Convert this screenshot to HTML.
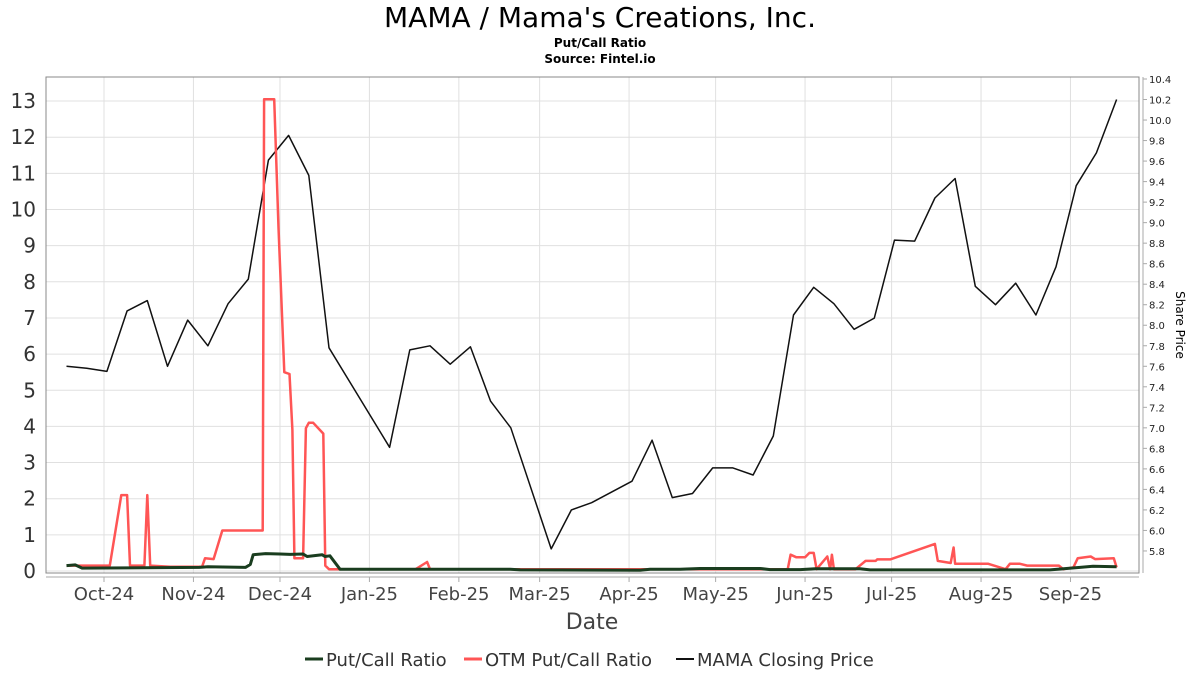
<!DOCTYPE html>
<html><head><meta charset="utf-8"><style>
body{margin:0;background:#fff;font-family:"DejaVu Sans","Liberation Sans",sans-serif}
svg text{font-family:"DejaVu Sans","Liberation Sans",sans-serif}
</style></head><body>
<svg id="chart" width="1200" height="675" viewBox="0 0 1200 675">
<text x="600" y="27" font-size="28" text-anchor="middle">MAMA / Mama's Creations, Inc.</text>
<text x="600" y="47" font-size="12" font-weight="bold" text-anchor="middle">Put/Call Ratio</text>
<text x="600" y="63" font-size="12" font-weight="bold" text-anchor="middle">Source: Fintel.io</text>
<g id="grid"></g>
<rect x="46" y="77" width="1093" height="496" fill="none" stroke="#888"/>
<line x1="46" y1="577" x2="1139" y2="577" stroke="#aaa"/>
<line x1="1143" y1="77" x2="1143" y2="573" stroke="#aaa"/>
<g id="axes"></g>
<g id="series"></g>
<text x="592" y="629" font-size="22" fill="#444" text-anchor="middle">Date</text>
<text x="1176" y="325" font-size="12" text-anchor="middle" transform="rotate(90 1176 325)">Share Price</text>
<g>
<line x1="305" y1="659" x2="323" y2="659" stroke="#1a3d1f" stroke-width="3"/>
<text x="326" y="666" font-size="18" fill="#333">Put/Call Ratio</text>
<line x1="464" y1="659" x2="482" y2="659" stroke="#ff5555" stroke-width="3"/>
<text x="485" y="666" font-size="18" fill="#333">OTM Put/Call Ratio</text>
<line x1="676" y1="659" x2="694" y2="659" stroke="#111" stroke-width="2"/>
<text x="697" y="666" font-size="18" fill="#333">MAMA Closing Price</text>
</g>
</svg>
<script>
// day offsets from 2024-10-01
const priceDays=[-13,-6,1,8,15,22,29,36,43,50,57,64,71,78,99,106,113,120,127,134,141,155,162,169,183,190,197,204,211,218,225,232,239,246,253,260,267,274,281,288,295,302,309,316,323,330,337,344,351];
const priceValues=[7.60,7.58,7.55,8.14,8.24,7.60,8.05,7.80,8.21,8.45,9.61,9.85,9.46,7.78,6.81,7.76,7.80,7.62,7.79,7.26,7.00,5.82,6.20,6.27,6.48,6.88,6.32,6.36,6.61,6.61,6.54,6.92,8.10,8.37,8.21,7.96,8.07,8.83,8.82,9.24,9.43,8.38,8.20,8.41,8.10,8.57,9.36,9.68,10.20];
const otmDays=[-13,2,6,8,9,14,15,16,23,34,35,38,41,55,55.5,59,60.5,62.5,64.3,65.3,66,69,70,71,72.5,76,76.7,78,88,108,112,113,237,238,240,243,244.5,246,247,250.7,251.7,252.3,253,260.5,264,267.5,268,272.5,288,289,293.5,294.5,295,306.5,312.5,314,317.5,320,331,332.5,336,337.5,342,343.5,350,351];
const otmValues=[0.15,0.15,2.1,2.1,0.15,0.15,2.1,0.15,0.12,0.12,0.35,0.33,1.12,1.12,13.05,13.05,9.5,5.5,5.45,3.9,0.35,0.35,3.95,4.1,4.1,3.8,0.15,0.05,0.05,0.05,0.25,0.05,0.05,0.45,0.38,0.38,0.5,0.5,0.05,0.4,0.05,0.45,0.05,0.05,0.28,0.28,0.32,0.32,0.75,0.28,0.22,0.65,0.2,0.2,0.05,0.2,0.2,0.15,0.15,0.05,0.1,0.35,0.4,0.33,0.35,0.1];
const pcDays=[-13,-10,-7.6,33,36,49,50.7,51.7,56,61,64.5,69,70.4,75.6,76.6,78.3,81.8,140.8,144.3,185.9,189.3,199.7,206.6,227.5,230.9,241.3,246.5,262.1,265.5,327.9,338.3,342.8,351];
const pcValues=[0.15,0.17,0.08,0.1,0.12,0.1,0.18,0.45,0.48,0.47,0.46,0.47,0.4,0.45,0.4,0.42,0.05,0.05,0.03,0.02,0.05,0.05,0.07,0.07,0.04,0.04,0.06,0.06,0.03,0.03,0.1,0.13,0.12];
const leftTicks=[0,1,2,3,4,5,6,7,8,9,10,11,12,13];
const rightTicks=[5.8,6.0,6.2,6.4,6.6,6.8,7.0,7.2,7.4,7.6,7.8,8.0,8.2,8.4,8.6,8.8,9.0,9.2,9.4,9.6,9.8,10.0,10.2,10.4];
const monthLabels=["Oct-24","Nov-24","Dec-24","Jan-25","Feb-25","Mar-25","Apr-25","May-25","Jun-25","Jul-25","Aug-25","Sep-25"];
const monthDays=[0,31,61,92,123,151,182,212,243,273,304,335];

const NS="http://www.w3.org/2000/svg";
const xS=d=>104+d*2.885;
const yL=v=>571-v*36.15;
const yR=p=>79+(10.4-p)/0.2*20.52;
function mk(tag,attrs,parent,txt){const e=document.createElementNS(NS,tag);for(const k in attrs)e.setAttribute(k,attrs[k]);if(txt!==undefined)e.textContent=txt;parent.appendChild(e);return e;}
const grid=document.getElementById('grid'),axes=document.getElementById('axes'),ser=document.getElementById('series');
leftTicks.forEach(t=>{
  const y=yL(t);
  const g=mk('line',{x1:46,x2:1139,y1:y,y2:y,stroke:'#e0e0e0'},grid);
  
  
  const l=mk('text',{x:36,y:y+7,'font-size':20,fill:'#333','text-anchor':'end'},axes,String(t));
  
  
});
rightTicks.forEach(t=>{
  const y=yR(t);
  mk('line',{x1:1143,x2:1147,y1:y,y2:y,stroke:'#aaa'},axes);
  const l=mk('text',{x:1149,y:y+4,'font-size':10,fill:'#222'},axes,t.toFixed(1));
  
  
});
monthDays.forEach((d,i)=>{
  const x=xS(d);
  const g=mk('line',{x1:x,x2:x,y1:77,y2:573,stroke:'#e0e0e0'},grid);
  
  
  mk('line',{x1:x,x2:x,y1:577,y2:582,stroke:'#aaa'},axes);
  const l=mk('text',{x:x,y:600,'font-size':18,fill:'#444','text-anchor':'middle'},axes,monthLabels[i]);
  
  
});
function line(days,vals,ys,color,w,name){
  const pts=days.map((d,i)=>xS(d).toFixed(1)+','+ys(vals[i]).toFixed(1)).join(' ');
  const p=mk('polyline',{points:pts,fill:'none',stroke:color,'stroke-width':w,'stroke-linejoin':'round'},ser);
  
  
}
line(priceDays,priceValues,yR,'#111',1.5,'closing-price-line');
line(otmDays,otmValues,yL,'#ff5555',2.5,'otm-put-call-line');
line(pcDays,pcValues,yL,'#1a3d1f',3,'put-call-line');
</script>
</body></html>
